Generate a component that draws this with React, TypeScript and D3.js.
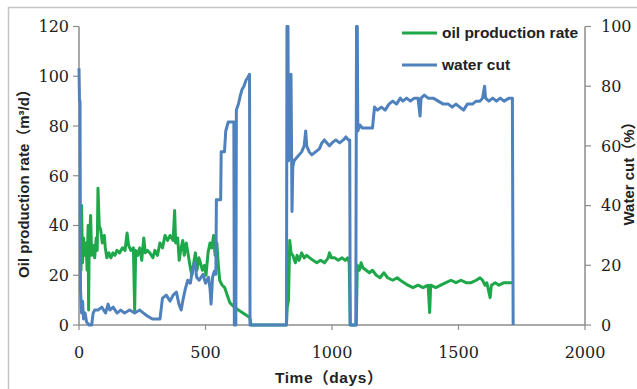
import React from "react";
import * as d3 from "d3";

const oilDays = [5,8,10,14,18,22,28,32,36,38,40,46,50,56,62,68,72,75,80,86,92,100,104,110,118,126,134,142,150,160,172,182,190,196,205,215,220,224,232,240,248,256,262,270,280,292,300,310,320,330,340,350,360,372,378,382,390,396,402,410,416,424,432,440,446,452,460,466,474,480,488,496,502,510,518,525,532,538,545,550,556,566,576,586,596,606,616,630,645,660,675,680,820,823,828,833,838,845,855,862,870,880,890,900,912,925,940,955,970,985,990,998,1010,1025,1040,1052,1062,1068,1072,1096,1100,1108,1115,1122,1135,1148,1160,1175,1190,1205,1220,1240,1258,1270,1285,1300,1320,1340,1360,1380,1386,1390,1410,1430,1450,1470,1490,1510,1530,1550,1570,1585,1595,1605,1612,1625,1630,1645,1660,1680,1715];
const oilRate = [45,22,48,25,35,28,33,22,40,6,30,44,28,32,27,35,30,55,40,38,33,36,31,27,29,27,29,28,30,29,31,30,37,32,30,31,6,30,28,31,26,35,29,30,29,27,30,28,33,31,36,34,36,34,46,33,35,26,30,34,28,33,28,23,20,24,29,22,27,25,22,24,20,29,33,31,36,28,33,25,18,16,15,12,9,8,7,6,5,4,3,0,0,7,10,34,29,28,25,28,26,29,27,28,27,26,25,26,25,27,29,27,27,26,27,26,27,25,0,0,24,22,25,23,22,21,22,20,19,21,19,18,19,18,17,16,15,16,15,16,5,16,15,16,17,18,17,18,17,17,18,19,18,16,17,11,16,17,16,17,17];

const waterDays = [0,2,4,6,10,14,18,24,30,40,50,56,62,75,90,105,115,122,135,150,165,180,200,220,240,255,270,290,320,330,345,360,372,385,395,404,410,420,430,440,450,458,465,475,490,500,512,518,522,528,535,541,543,560,562,575,580,590,612,614,620,622,630,638,645,652,660,668,674,676,820,822,826,828,832,838,842,845,850,860,870,880,890,896,900,910,920,935,950,960,970,980,990,1000,1015,1030,1045,1055,1065,1070,1072,1094,1097,1100,1102,1110,1120,1135,1160,1168,1180,1195,1210,1225,1240,1255,1270,1280,1295,1310,1325,1340,1348,1352,1365,1380,1400,1420,1440,1460,1475,1490,1505,1520,1535,1555,1570,1585,1595,1603,1607,1620,1635,1650,1665,1680,1700,1713,1716];
const waterCut = [86,75,75,12,4,8,2,4,1,0,0,4,5,5,6,4,7,5,6,4,5,4,5,4,5,4,3,2,2,9,10,8,10,11,7,5,8,12,15,14,19,21,16,15,17,14,16,12,7,16,18,17,42,42,58,58,65,68,68,0,0,72,74,77,79,80,82,83,84,0,0,100,100,55,60,84,38,53,55,56,57,58,60,65,60,58,57,58,59,61,62,61,60,61,62,61,62,63,62,62,0,0,100,100,65,67,66,66,66,73,72,73,72,74,75,74,76,75,76,75,76,76,70,76,77,76,76,75,74,74,73,74,73,72,74,74,75,75,76,80,76,75,76,75,76,75,76,76,0];

const leftTicks = [0,20,40,60,80,100,120];
const rightTicks = [0,20,40,60,80,100];
const xTicks = [0,500,1000,1500,2000];
const legendLabels = ["oil production rate", "water cut"];

const GREEN = "#1ea84a";
const BLUE = "#4f81bd";
const AXIS = "#8c8c8c";
const TICKFONT = "'DejaVu Serif', serif";
const TITLEFONT = "'Liberation Sans', Arial, 'Noto Sans CJK SC', sans-serif";

export default function App() {
  const W = 637, H = 389;
  const x = d3.scaleLinear().domain([0, 2000]).range([79, 585]);
  const yL = d3.scaleLinear().domain([0, 120]).range([325, 26.5]);
  const yR = d3.scaleLinear().domain([0, 100]).range([325, 26.5]);
  const oilLine = d3.line<number>().x((_, i) => x(oilDays[i])).y((d) => yL(d));
  const waterLine = d3.line<number>().x((_, i) => x(waterDays[i])).y((d) => yR(d));
  return (
    <svg width={W} height={H} style={{ position: "absolute", left: 0, top: 0, background: "#fff" }}>
      <rect x={0} y={0} width={W} height={H} fill="#fff" />
      <rect x={8.5} y={7.5} width={W} height={H} fill="none" stroke="#c4c4c4" strokeWidth={1.5} />
      {/* axes */}
      <line x1={79} x2={79} y1={yL(120)} y2={325} stroke={AXIS} strokeWidth={1.5} />
      <line x1={585} x2={585} y1={yR(100)} y2={325} stroke={AXIS} strokeWidth={1.5} />
      <line x1={79} x2={585} y1={325} y2={325} stroke={AXIS} strokeWidth={1.5} />
      {leftTicks.map((t) => (
        <g key={"l" + t}>
          <line x1={73} x2={79} y1={yL(t)} y2={yL(t)} stroke={AXIS} strokeWidth={1.2} />
          <text x={69} y={yL(t)} dy="0.36em" textAnchor="end" fontFamily={TICKFONT} fontSize={16} fill="#222">{t}</text>
        </g>
      ))}
      {rightTicks.map((t) => (
        <g key={"r" + t}>
          <line x1={585} x2={591} y1={yR(t)} y2={yR(t)} stroke={AXIS} strokeWidth={1.2} />
          <text x={601} y={yR(t)} dy="0.36em" textAnchor="start" fontFamily={TICKFONT} fontSize={16} fill="#222">{t}</text>
        </g>
      ))}
      {xTicks.map((t) => (
        <g key={"x" + t}>
          <line x1={x(t)} x2={x(t)} y1={325} y2={330} stroke={AXIS} strokeWidth={1.2} />
          <text x={x(t)} y={358} textAnchor="middle" fontFamily={TICKFONT} fontSize={16} fill="#222">{t}</text>
        </g>
      ))}
      {/* data */}
      <path d={oilLine(oilRate) || ""} fill="none" stroke={GREEN} strokeWidth={3} strokeLinejoin="round" />
      <path d={waterLine(waterCut) || ""} fill="none" stroke={BLUE} strokeWidth={3} strokeLinejoin="round" />
      {/* titles */}
      <text x={329} y={383} textAnchor="middle" fontFamily={TITLEFONT} fontWeight="bold" fontSize={15.5} letterSpacing={0.6} fill="#222">Time（days）</text>
      <text transform="translate(29,180) rotate(-90)" textAnchor="middle" fontFamily={TITLEFONT} fontWeight="bold" fontSize={15} fill="#222">Oil production rate（m³/d）</text>
      <text transform="translate(634,170) rotate(-90)" textAnchor="middle" fontFamily={TITLEFONT} fontWeight="bold" fontSize={15} fill="#222">Water cut（%）</text>
      {/* legend */}
      <line x1={402} x2={437} y1={33} y2={33} stroke={GREEN} strokeWidth={3} />
      <text x={442} y={38} fontFamily={TITLEFONT} fontWeight="bold" fontSize={15.5} fill="#222">{legendLabels[0]}</text>
      <line x1={402} x2={437} y1={65} y2={65} stroke={BLUE} strokeWidth={3} />
      <text x={442} y={70} fontFamily={TITLEFONT} fontWeight="bold" fontSize={15.5} fill="#222">{legendLabels[1]}</text>
    </svg>
  );
}
